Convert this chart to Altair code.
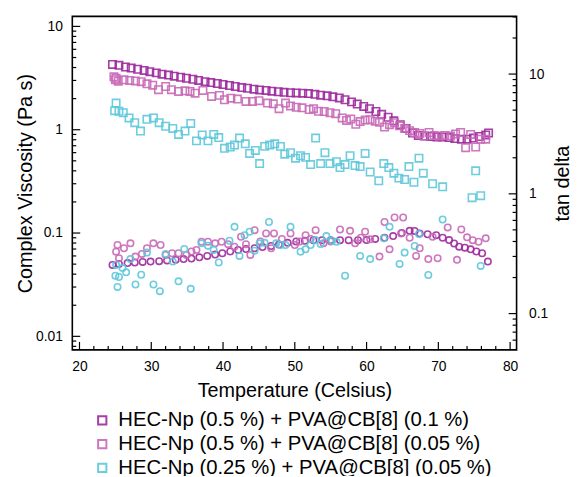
import altair as alt
import pandas as pd

FONT = "Liberation Sans"

series_names = [
    "HEC-Np (0.5 %) + PVA@CB[8] (0.1 %)",
    "HEC-Np (0.5 %) + PVA@CB[8] (0.05 %)",
    "HEC-Np (0.25 %) + PVA@CB[8] (0.05 %)",
]
series_colors = ["#9E2A9E", "#C86AB8", "#5EC8DC"]

# ---- Complex viscosity (squares, left axis) ----
s1_T = [24.6, 25.5, 26.4, 27.2, 28.1, 29.0, 29.8, 30.7, 31.5, 32.4, 33.2, 34.1, 34.9, 35.8,
        36.6, 37.5, 38.3, 39.2, 40.0, 40.9, 41.7, 42.6, 43.4, 44.3, 45.1, 46.0, 46.8, 47.7,
        48.5, 49.4, 50.2, 51.1, 51.9, 52.8, 53.6, 54.5, 55.3, 56.2, 57.0, 57.9, 58.7, 59.6,
        60.4, 61.3, 62.1, 63.0, 63.8, 64.7, 65.5, 66.4, 67.2, 68.1, 68.9, 69.8, 70.6, 71.5,
        72.3, 73.2, 74.0, 74.9, 75.7, 76.6, 77.0]
s1_V = [4.29, 4.2, 4.05, 3.95, 3.85, 3.75, 3.65, 3.55, 3.45, 3.38, 3.3, 3.22, 3.15, 3.08,
        3.0, 2.92, 2.86, 2.8, 2.74, 2.68, 2.62, 2.56, 2.52, 2.47, 2.43, 2.4, 2.36, 2.33,
        2.3, 2.28, 2.27, 2.26, 2.24, 2.2, 2.16, 2.13, 2.08, 2.03, 1.95, 1.86, 1.77, 1.68,
        1.6, 1.5, 1.41, 1.32, 1.22, 1.12, 1.03, 0.93, 0.88, 0.87, 0.86, 0.85, 0.85, 0.84,
        0.82, 0.81, 0.81, 0.83, 0.86, 0.89, 0.93]

s2_T = [24.8, 25.0, 25.1, 25.4, 26.2, 27.0, 27.8, 28.6, 29.4, 30.2, 31.0, 32.0, 32.8, 33.8,
        34.7, 35.4, 36.1, 37.2, 38.4, 39.5, 40.2, 41.1, 42.0, 43.2, 44.1, 45.0, 46.2, 47.0,
        47.8, 48.7, 49.4, 50.2, 51.0, 52.0, 52.6, 53.3, 54.1, 54.9, 55.7, 56.6, 57.2, 57.8,
        58.5, 59.1, 59.8, 60.5, 61.2, 61.8, 62.5, 63.2, 63.9, 64.6, 65.3, 66.0, 66.7, 67.4,
        68.0, 68.7, 69.4, 70.1, 70.9, 71.7, 72.4, 73.1, 73.8, 74.5, 75.2, 75.9, 76.6]
s2_V = [3.25, 3.05, 3.15, 2.95, 3.04, 3.0, 2.97, 2.92, 2.78, 2.7, 2.44, 2.62, 2.44, 2.35,
        2.38, 2.35, 2.26, 2.40, 2.10, 2.15, 1.95, 2.02, 1.98, 1.88, 1.88, 1.91, 1.81, 1.78,
        1.60, 1.81, 1.70, 1.65, 1.63, 1.57, 1.6, 1.51, 1.5, 1.46, 1.43, 1.30, 1.23, 1.27,
        1.13, 1.2, 1.24, 1.25, 1.21, 1.18, 1.06, 1.12, 1.17, 1.09, 1.03, 0.98, 0.94, 0.92,
        0.87, 0.94, 0.88, 0.87, 0.88, 0.87, 0.91, 0.94, 0.67, 0.90, 0.68, 0.81, 0.81]

s3_T = [24.9, 25.1, 25.5, 26.1, 26.9, 27.7, 28.5, 29.4, 30.3, 31.1, 32.0, 33.0, 33.8, 34.7,
        35.5, 36.3, 37.1, 37.9, 38.7, 39.4, 40.2, 41.0, 41.6, 42.3, 43.1, 43.7, 44.5, 45.1,
        45.8, 46.5, 47.2, 48.0, 48.6, 49.4, 50.1, 50.8, 51.5, 52.2, 52.9, 53.6, 54.2, 54.9,
        55.8, 56.3, 57.0, 57.7, 58.4, 59.1, 59.8, 60.5, 61.7, 62.4, 63.1, 63.8, 64.5, 65.3,
        65.9, 66.6, 67.3, 67.9, 69.2, 70.6, 74.7, 75.2, 75.9]
s3_V = [1.53, 1.81, 1.51, 1.46, 1.30, 1.17, 0.97, 1.26, 1.30, 1.17, 1.08, 1.03, 0.90, 0.97,
        1.15, 0.78, 0.89, 0.78, 0.90, 0.84, 0.66, 0.68, 0.71, 0.83, 0.73, 0.59, 0.63, 0.47,
        0.69, 0.71, 0.73, 0.69, 0.58, 0.60, 0.53, 0.56, 0.54, 0.46, 0.83, 0.47, 0.60, 0.47,
        0.49, 0.43, 0.46, 0.56, 0.45, 0.44, 0.59, 0.39, 0.32, 0.47, 0.43, 0.38, 0.34, 0.33,
        0.44, 0.31, 0.53, 0.38, 0.30, 0.28, 0.22, 0.40, 0.23]

# ---- tan delta (circles, right axis) ----
t1_T = [24.6, 25.5, 26.7, 27.7, 28.8, 29.9, 31.1, 32.2, 33.4, 34.5, 35.6, 36.7, 37.8, 38.9,
        39.9, 41.0, 42.1, 43.2, 44.4, 45.5, 46.7, 47.8, 49.0, 50.2, 51.4, 52.6, 53.8, 55.0,
        56.3, 57.5, 58.8, 60.0, 61.2, 62.5, 63.7, 64.9, 66.0, 66.7, 67.4, 68.5, 69.7, 70.6,
        71.5, 72.2, 72.9, 73.7, 74.5, 75.3, 76.1, 76.9]
t1_V = [0.255, 0.26, 0.264, 0.267, 0.27, 0.272, 0.274, 0.278, 0.281, 0.285, 0.288, 0.295,
        0.303, 0.311, 0.319, 0.33, 0.34, 0.346, 0.351, 0.359, 0.367, 0.377, 0.39, 0.4, 0.405,
        0.41, 0.41, 0.41, 0.41, 0.41, 0.41, 0.411, 0.42, 0.43, 0.444, 0.47, 0.491, 0.49,
        0.467, 0.46, 0.452, 0.43, 0.411, 0.385, 0.362, 0.355, 0.344, 0.33, 0.319, 0.272]

t2_T = [25.1, 25.3, 25.5, 26.2, 27.1, 27.8, 28.7, 29.4, 30.3, 31.3, 32.0, 32.9, 33.8, 34.9,
        35.6, 36.3, 37.0, 37.9, 38.9, 39.8, 40.7, 41.6, 42.5, 43.2, 43.8, 44.4, 45.2, 46.0,
        46.7, 47.1, 48.2, 49.4, 50.0, 50.7, 51.5, 52.2, 52.9, 54.0, 55.0, 56.3, 57.7, 58.4,
        59.2, 59.8, 60.5, 61.8, 62.5, 63.2, 63.9, 64.8, 65.1, 66.0, 66.9, 67.4, 68.6, 69.2,
        69.9, 71.3, 72.6, 73.2, 74.0, 74.8, 75.6, 76.6]
t2_V = [0.329, 0.374, 0.29, 0.351, 0.386, 0.299, 0.315, 0.351, 0.386, 0.374, 0.309, 0.319,
        0.319, 0.309, 0.33, 0.34, 0.398, 0.398, 0.386, 0.398, 0.38, 0.362, 0.438, 0.38, 0.309,
        0.497, 0.4, 0.467, 0.351, 0.467, 0.42, 0.467, 0.374, 0.4, 0.452, 0.42, 0.497, 0.386,
        0.4, 0.504, 0.491, 0.386, 0.43, 0.482, 0.417, 0.299, 0.582, 0.344, 0.634, 0.467,
        0.634, 0.43, 0.303, 0.351, 0.285, 0.438, 0.29, 0.524, 0.281, 0.504, 0.433, 0.41,
        0.398, 0.425]

t3_T = [25.0, 25.1, 25.3, 25.5, 26.0, 26.5, 27.1, 27.8, 28.6, 29.4, 30.3, 31.2, 32.0, 33.0,
        33.8, 34.6, 35.5, 37.0, 37.9, 38.7, 39.4, 40.9, 41.6, 42.3, 43.0, 43.7, 44.4, 45.1,
        45.8, 46.4, 47.4, 48.0, 48.7, 49.4, 50.8, 51.5, 52.2, 52.9, 53.6, 54.4, 55.2, 55.8,
        57.0, 59.1, 60.5, 62.4, 63.2, 64.6, 65.3, 66.7, 67.3, 68.6, 70.6, 75.9]
t3_V = [0.207, 0.255, 0.167, 0.202, 0.24, 0.221, 0.285, 0.175, 0.211, 0.323, 0.175, 0.154,
        0.315, 0.272, 0.186, 0.347, 0.161, 0.386, 0.369, 0.34, 0.267, 0.406, 0.53, 0.303,
        0.452, 0.482, 0.335, 0.386, 0.39, 0.582, 0.386, 0.374, 0.374, 0.53, 0.329, 0.344,
        0.374, 0.411, 0.381, 0.444, 0.406, 0.398, 0.207, 0.303, 0.285, 0.425, 0.53, 0.26,
        0.323, 0.367, 0.462, 0.21, 0.61, 0.25]

# ---- axis tick values ----
x_major = [20, 30, 40, 50, 60, 70, 80]
x_minor = [22, 24, 26, 28, 32, 34, 36, 38, 42, 44, 46, 48, 52, 54, 56, 58,
           62, 64, 66, 68, 72, 74, 76, 78]
left_major = [0.01, 0.1, 1, 10]
left_minor = [0.008, 0.009] + [k / 100 for k in range(2, 10)] + [k / 10 for k in range(2, 10)] + list(range(2, 10))
right_major = [0.1, 1, 10]
right_minor = [0.06, 0.07, 0.08, 0.09] + [k / 10 for k in range(2, 10)] + list(range(2, 10)) + [20, 30]

W, H = 449, 337
X_DOM = [19.0, 80.9]
L_DOM = [0.0074, 12.5]
R_DOM = [0.0498, 30.3]


def frame(Ts, Vs, name):
    return pd.DataFrame({"T": Ts, "v": Vs, "series": name})


sq = pd.concat([frame(s1_T, s1_V, series_names[0]),
                frame(s2_T, s2_V, series_names[1]),
                frame(s3_T, s3_V, series_names[2])])
ci = pd.concat([frame(t1_T, t1_V, series_names[0]),
                frame(t2_T, t2_V, series_names[1]),
                frame(t3_T, t3_V, series_names[2])])

xscale = alt.Scale(domain=X_DOM, nice=False, zero=False)
lscale = alt.Scale(type="log", domain=L_DOM, nice=False)
rscale = alt.Scale(type="log", domain=R_DOM, nice=False)
cscale = alt.Scale(domain=series_names, range=series_colors)

x_axis = alt.Axis(values=x_major, ticks=False, tickSize=0, domain=False, grid=False,
                  labelFont=FONT, labelFontSize=14, labelColor="black", labelPadding=10,
                  title="Temperature (Celsius)", titleFont=FONT, titleFontSize=20,
                  titleFontWeight="normal", titleColor="black", titlePadding=7)

squares = alt.Chart(sq).mark_point(shape="square", filled=False, size=56, strokeWidth=1.6, opacity=0.9).encode(
    x=alt.X("T:Q", scale=xscale, axis=x_axis),
    y=alt.Y("v:Q", scale=lscale,
            axis=alt.Axis(orient="left", values=left_major, format="~g", ticks=False, tickSize=0,
                          domain=False, grid=False, labelFont=FONT, labelFontSize=14,
                          labelColor="black", labelPadding=10, title="Complex Viscosity (Pa s)",
                          titleFont=FONT, titleFontSize=20, titleFontWeight="normal",
                          titleColor="black", titlePadding=0)),
    color=alt.Color("series:N", scale=cscale,
                    legend=alt.Legend(title=None, orient="none", legendX=20, legendY=398,
                                      direction="vertical", symbolType="square", symbolSize=70,
                                      symbolStrokeWidth=2, labelFont=FONT, labelFontSize=20.5,
                                      labelColor="black", labelOffset=6, rowPadding=3,
                                      padding=0, labelLimit=600)),
)

circles = alt.Chart(ci).mark_point(shape="circle", filled=False, size=42, strokeWidth=1.6, opacity=0.9).encode(
    x=alt.X("T:Q", scale=xscale, axis=x_axis),
    y=alt.Y("v:Q", scale=rscale,
            axis=alt.Axis(orient="right", values=right_major, format="~g", ticks=False, tickSize=0,
                          domain=False, grid=False, labelFont=FONT, labelFontSize=14,
                          labelColor="black", labelPadding=12, title="tan delta", titleFont=FONT,
                          titleFontSize=20, titleFontWeight="normal", titleColor="black",
                          titleAngle=270, titleBaseline="middle", titlePadding=15)),
    color=alt.Color("series:N", scale=cscale, legend=None),
)


def rule_layer(vals, field, scale, **enc):
    d = pd.DataFrame({field: vals})
    base = alt.Chart(d).mark_rule(color="black", strokeWidth=1.2)
    if field == "T":
        return base.encode(x=alt.X("T:Q", scale=xscale, axis=x_axis), **enc)
    return base.encode(y=alt.Y("v:Q", scale=scale, axis=None), **enc)


x_ticks_major = rule_layer(x_major, "T", xscale, y=alt.value(H - 8), y2=alt.value(H))
x_ticks_minor = rule_layer(x_minor, "T", xscale, y=alt.value(H - 4), y2=alt.value(H))
l_ticks_major = rule_layer(left_major, "v", lscale, x=alt.value(0), x2=alt.value(8))
l_ticks_minor = rule_layer(left_minor, "v", lscale, x=alt.value(0), x2=alt.value(4))
r_ticks_major = rule_layer(right_major, "v", rscale, x=alt.value(W - 8), x2=alt.value(W))
r_ticks_minor = rule_layer(right_minor, "v", rscale, x=alt.value(W - 4), x2=alt.value(W))

chart = alt.layer(
    squares, circles,
    l_ticks_major, l_ticks_minor, r_ticks_major, r_ticks_minor,
    x_ticks_major, x_ticks_minor,
).resolve_scale(y="independent").properties(
    width=W, height=H,
    autosize=alt.AutoSizeParams(type="none"),
    padding={"left": 65, "top": 6, "right": 55, "bottom": 125},
).configure_view(stroke="black", strokeWidth=1.6)

chart.save("out.html", embed_options={"renderer": "svg", "actions": False})
